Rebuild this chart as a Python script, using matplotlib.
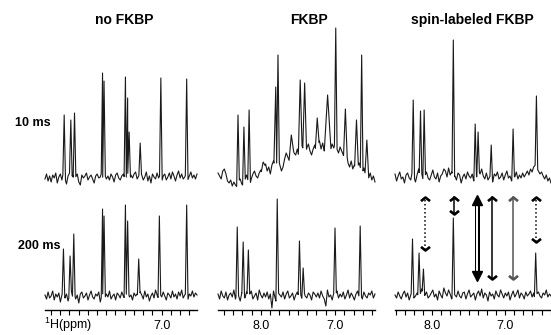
import numpy as np
import matplotlib
matplotlib.use("Agg")
import matplotlib.pyplot as plt
from matplotlib.path import Path
from matplotlib.ticker import FixedLocator, MultipleLocator

plt.rcParams["font.family"] = ["Liberation Sans", "DejaVu Sans"]

# ---- data (ppm, peak top in px above baseline) ----
titles = ["no FKBP", "FKBP", "spin-labeled FKBP"]
row_labels = ["10 ms", "200 ms"]

nofk_10_ppm = [8.32, 8.23, 8.18, 7.80, 7.78, 7.49, 7.46, 7.44, 7.29, 7.01, 6.66]
nofk_10_h = [62, 57, 64, 104, 96, 100, 79, 45, 34, 99, 98]
nofk_200_ppm = [8.33, 8.24, 8.19, 7.80, 7.78, 7.49, 7.46, 7.31, 7.03, 6.66]
nofk_200_h = [47, 40, 62, 87, 80, 91, 75, 37, 80, 91]

fk_10_ppm = [8.31, 8.23, 8.16, 7.97, 7.80, 7.77, 7.59, 7.47, 7.41, 7.24, 7.10,
             6.99, 6.86, 6.71, 6.64, 6.57]
fk_10_h = [62, 50, 67, 15, 90, 122, 42, 97, 94, 59, 82, 149, 68, 57, 122, 37]
fk_10_w = [0.018, 0.018, 0.018, 0.025, 0.025, 0.018, 0.03, 0.025, 0.025, 0.025, 0.045,
           0.018, 0.025, 0.025, 0.018, 0.025]
fk_200_ppm = [8.32, 8.24, 8.17, 7.78, 7.48, 7.43, 7.00, 6.66]
fk_200_h = [69, 54, 46, 97, 55, 28, 68, 70]

sl_10_ppm = [8.26, 8.16, 8.11, 7.71, 7.41, 7.37, 7.19, 6.89, 6.57]
sl_10_h = [77, 66, 67, 137, 53, 45, 32, 48, 81]
sl_200_ppm = [8.27, 8.18, 8.12, 7.71, 6.58]
sl_200_h = [57, 43, 27, 78, 43]

# baseline wiggle, left to right across each panel
nofk_10_base = [-2, 3, -4, 1, -5, 2, -1, 4, -6, 0, 3, -3, 5, -2, -7, 1, 4, -1, 2, -4,
                0, 3, -5, -8, 2, -1, 1, 4, -3, 0, 2, -2, -6, 1, 3, -1, 0, 5, -4, 2,
                -2, 1, -3, 3, 0, -5, 2, 4, -1, -3, 1, 3, -2, 0, 4, -4, 2, -1, 3, 5,
                -2, 1, 4, 2, -3, 0, 5, -4, 1, -6, 3, 0, -2, 4, -1, 2, -5, 1, 3, -3,
                0, 4, -2, 5, 1, -4, 2, 6, -1, 3, -2, 0, 4, -3, 1, 5, -1, 2, -2, 3]
nofk_200_base = [1, -3, 4, -2, 0, 5, -4, 2, -1, 3, -6, 1, 4, -2, 2, -5, 0, 6, -1, 3,
                 -3, 1, -7, 2, 4, -2, 0, 3, -4, 1, 5, -1, -3, 2, 0, 4, -6, 1, 3, -2,
                 2, -1, 5, -3, 0, 2, -4, 3, 1, -2, 4, 0, -3, 2, 5, -1, 1, -4, 3, 0,
                 2, -2, 4, 1, -3, 5, -1, 2, -5, 0, 3, -2, 6, 1, -3, 2, -1, 4, 0, -4,
                 3, 1, -2, 5, -1, 2, -3, 4, 0, 6, -2, 1, 3, -4, 2, 0, 5, -1, 3, 1]
fk_10_base = [4, 1, -2, 6, 8, 3, -4, -6, -3, -9, -5, -8, -10, -4, -2, -7, -9, -3, 2, -4,
              -8, -2, 3, 6, 1, -1, 4, 7, 2, 9, 13, 6, 10, 3, 12, 16, 8, 14, 19, 12,
              6, 10, 18, 24, 20, 16, 26, 30, 24, 22, 28, 20, 25, 31, 27, 23, 29, 33, 26, 22,
              28, 32, 24, 30, 36, 28, 34, 26, 30, 38, 32, 27, 33, 29, 35, 28, 24, 30, 26, 22,
              18, 24, 14, 10, 16, 8, 12, 6, 10, 14, 8, 4, 9, 2, 6, -1, 4, -3, 1, -5]
fk_200_base = [2, -3, 5, 0, -2, 4, -4, 1, 3, -1, 6, -3, 2, 0, -5, 3, 1, -2, 4, -1,
               2, 5, -3, 0, 3, -4, 6, 1, -2, 3, -1, 4, -3, 2, -12, 5, -2, -8, 3, 1,
               -1, 4, -3, 2, 5, -2, 0, 3, -4, 1, 4, -1, 2, -3, 5, 0, -2, 3, 1, -4,
               4, 2, -1, 3, -2, 5, 0, -3, -10, 6, -1, 1, -4, 3, 0, 5, -2, 2, -1, 4,
               -3, 1, 6, -2, 3, 0, -4, 2, 5, -1, 1, -3, 4, 0, -2, 3, 1, 5, -2, 2]
sl_10_base = [3, -4, 1, 5, -2, 0, -6, 2, 4, -1, -3, 6, 0, -5, 2, 8, -2, 3, -4, 1,
              5, -1, -3, 2, 7, 0, -2, 4, -5, 1, 3, 8, 6, 0, 9, 2, 5, -1, 1, -3,
              4, 2, -6, 0, 3, -2, 5, 1, -1, 3, -4, 2, 0, 6, 3, 8, 1, -2, 4, -3,
              0, 2, -5, 3, 1, 5, -2, 0, 4, -3, 2, 6, -1, 1, -4, 3, 0, 5, -2, 2,
              -1, 4, 0, 3, 6, 2, 8, 5, 10, 12, 9, 6, 3, 5, 1, -2, 2, -4, -1, -6]
sl_200_base = [1, -2, 4, 0, -3, 2, 5, -1, 3, -4, 1, 6, -2, 0, 3, -1, 2, 7, -3, 1,
               4, -2, 0, 3, 6, -1, 2, -4, 5, 1, -2, 8, 3, 0, 6, 2, -3, 4, 1, -1,
               5, 0, -2, 3, 4, -3, 2, 6, -1, 1, 3, -4, 2, 5, 0, 7, -2, 3, 1, -5,
               4, 0, 2, -3, 5, 1, -1, 6, 2, -2, 3, 0, 4, -4, 1, 5, -1, 2, 6, -2,
               3, 1, -3, 4, 0, 2, 5, -1, 3, -5, 2, 4, 0, -2, 3, 1, 6, -1, 2, 0]

# arrows in the spin-labeled 200 ms panel
arrow_ppm = [8.10, 7.70, 7.38, 7.18, 6.89, 6.58]
arrow_low = [46, 82, 17, 17, 17, 54]
arrow_kind = ["dotted", "solid", "double", "solid", "gray", "dotted"]
arrow_top = 99

W, H = 551, 335


def px_axes(fig, x0, y0, x1, y1):
    return fig.add_axes([x0 / W, 1 - y1 / H, (x1 - x0) / W, (y1 - y0) / H])


def build_trace(left, right, base, ppm, height, width=None):
    base = np.asarray(base, float)
    xb = np.linspace(left, right, len(base))
    if width is None:
        width = [0.018] * len(ppm)

    def bl(p):
        return np.interp(p, xb[::-1], base[::-1])

    pts = list(zip(xb, base))
    for p, h, w in zip(ppm, height, width):
        pts = [(x, y) for x, y in pts if not (p - w < x < p + w)]
        pts += [(p + w, bl(p + w)), (p, max(h, bl(p))), (p - w, bl(p - w))]
    pts.sort(key=lambda t: -t[0])
    return np.array(pts)


fig = plt.figure(figsize=(W / 100, H / 100), dpi=100)

# panel x-extent in px and ppm limits at those edges
cols = [(45, 197, 8.58, 6.52), (218, 375, 8.58, 6.46), (395, 551, 8.51, 6.37)]
rows = [(20, 190, 177), (190, 310, 296)]

spectra = [
    [(nofk_10_base, nofk_10_ppm, nofk_10_h, None),
     (nofk_200_base, nofk_200_ppm, nofk_200_h, None)],
    [(fk_10_base, fk_10_ppm, fk_10_h, fk_10_w),
     (fk_200_base, fk_200_ppm, fk_200_h, None)],
    [(sl_10_base, sl_10_ppm, sl_10_h, None),
     (sl_200_base, sl_200_ppm, sl_200_h, None)],
]

chev_up = Path([(-1, -0.8), (0, 0), (1, -0.8)], [Path.MOVETO, Path.LINETO, Path.LINETO])
chev_dn = Path([(-1, 0.8), (0, 0), (1, 0.8)], [Path.MOVETO, Path.LINETO, Path.LINETO])

for c, (x0, x1, left, right) in enumerate(cols):
    for r, (y0, y1, zero) in enumerate(rows):
        ax = px_axes(fig, x0, y0, x1, y1)
        base, ppm, h, w = spectra[c][r]
        tr = build_trace(left, right, base, ppm, h, w)
        ax.plot(tr[:, 0], tr[:, 1], color="#1a1a1a", lw=0.8, clip_on=False)
        ax.set_xlim(left, right)
        ax.set_ylim(-(y1 - zero), zero - y0)
        ax.patch.set_visible(False)
        for s in ("top", "left", "right"):
            ax.spines[s].set_visible(False)
        ax.set_yticks([])
        if r == 0:
            ax.spines["bottom"].set_visible(False)
            ax.set_xticks([])
            continue
        ax.spines["bottom"].set_linewidth(1.0)
        ax.xaxis.set_major_locator(FixedLocator([8.0, 7.0]))
        ax.xaxis.set_minor_locator(MultipleLocator(0.125))
        ax.set_xticklabels(["" if c == 0 else "8.0", "7.0"])
        ax.tick_params(axis="x", which="both", direction="out", length=3.5, width=0.8,
                       labelsize=9, pad=4)

        if c == 2:
            for xp, lo, kind in zip(arrow_ppm, arrow_low, arrow_kind):
                if kind == "double":
                    ax.plot([xp, xp], [lo + 3, arrow_top - 3], color="black", lw=3.6,
                            solid_capstyle="butt", clip_on=False)
                    ax.plot([xp, xp], [lo + 5, arrow_top - 5], color="white", lw=1.4,
                            solid_capstyle="butt", clip_on=False)
                    ax.plot([xp], [arrow_top - 3], marker="^", ms=7.5, color="black",
                            clip_on=False)
                    ax.plot([xp], [lo + 3], marker="v", ms=7.5, color="black",
                            clip_on=False)
                    continue
                col = "#555555" if kind == "gray" else "black"
                ls = ":" if kind == "dotted" else "-"
                ax.plot([xp, xp], [lo, arrow_top], color=col, lw=1.1, ls=ls,
                        clip_on=False)
                ax.plot([xp], [arrow_top], marker=chev_up, ms=6.5, mew=1.9,
                        mfc="none", mec=col, clip_on=False)
                ax.plot([xp], [lo], marker=chev_dn, ms=6.5, mew=1.9,
                        mfc="none", mec=col, clip_on=False)

# headers and row labels
title_x = [124, 309, 472]
for tx, t in zip(title_x, titles):
    fig.text(tx / W, 1 - 20 / H, t, ha="center", va="center", fontsize=10,
             fontweight="bold")
fig.text(51 / W, 1 - 123 / H, row_labels[0], ha="right", va="center", fontsize=9,
         fontweight="bold")
fig.text(60 / W, 1 - 246 / H, row_labels[1], ha="right", va="center", fontsize=9,
         fontweight="bold")
fig.text(44 / W, 1 - 325 / H, r"$^{\mathregular{1}}$H(ppm)", ha="left", va="center",
         fontsize=9)

fig.savefig("out.png", dpi=100)
